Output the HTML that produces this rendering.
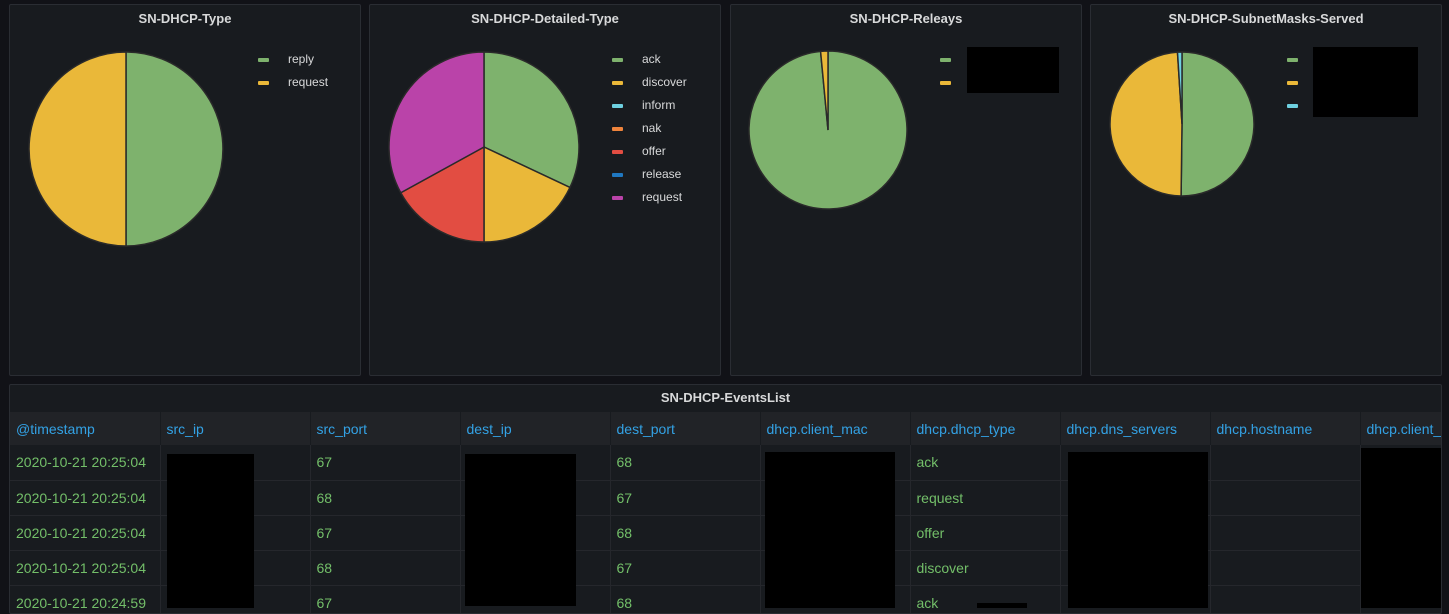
<!DOCTYPE html>
<html><head><meta charset="utf-8"><style>
body{margin:0;width:1449px;height:608px;background:#111217;overflow:hidden;font-family:"Liberation Sans",sans-serif;position:relative}
.p{position:absolute;background:#181b1f;border:1px solid #2a2d33;border-radius:2px;box-sizing:border-box}
.t{position:absolute;top:6px;left:0;right:0;text-align:center;color:#d8d9da;font-size:13px;font-weight:bold}
.lg{position:absolute;font-size:12px;color:#d8d9da}
.lg div{height:23px;position:relative;padding-left:30px;line-height:14px}
.lg span{position:absolute;left:0;top:6px;width:11px;height:4px;border-radius:1px}
.blk{position:absolute;background:#000}
table{position:absolute;left:0;top:27px;border-collapse:collapse;font-size:14px}
td,th{width:150px;min-width:150px;max-width:150px;padding:0 0 0 6px;box-sizing:border-box;text-align:left;font-weight:normal;white-space:nowrap;overflow:hidden}
th{height:33px;background:#212327;color:#33a2e5;border-right:1px solid #181b1f}
td{height:35px;color:#73bf69;border-bottom:1px solid #25272c;border-right:1px solid #25272c}
</style></head><body>
<div class="p" style="left:9px;top:4px;width:352px;height:372px"><div class="t">SN-DHCP-Type</div>
<svg id="s1" width="352" height="372" style="position:absolute;left:0;top:0"></svg>
<div class="lg" style="left:248px;top:47px"><div><span style="background:#7eb26d"></span>reply</div><div><span style="background:#eab839"></span>request</div></div></div>
<div class="p" style="left:369px;top:4px;width:352px;height:372px"><div class="t">SN-DHCP-Detailed-Type</div>
<svg id="s2" width="352" height="372" style="position:absolute;left:0;top:0"></svg>
<div class="lg" style="left:242px;top:47px"><div><span style="background:#7eb26d"></span>ack</div><div><span style="background:#eab839"></span>discover</div><div><span style="background:#6ed0e0"></span>inform</div><div><span style="background:#ef843c"></span>nak</div><div><span style="background:#e24d42"></span>offer</div><div><span style="background:#1f78c1"></span>release</div><div><span style="background:#ba43a9"></span>request</div></div></div>
<div class="p" style="left:730px;top:4px;width:352px;height:372px"><div class="t">SN-DHCP-Releays</div>
<svg id="s3" width="352" height="372" style="position:absolute;left:0;top:0"></svg>
<div class="lg" style="left:209px;top:47px"><div><span style="background:#7eb26d"></span>&nbsp;</div><div><span style="background:#eab839"></span>&nbsp;</div></div>
<div class="blk" style="left:236px;top:42px;width:92px;height:46px"></div></div>
<div class="p" style="left:1090px;top:4px;width:352px;height:372px"><div class="t">SN-DHCP-SubnetMasks-Served</div>
<svg id="s4" width="352" height="372" style="position:absolute;left:0;top:0"></svg>
<div class="lg" style="left:196px;top:47px"><div><span style="background:#7eb26d"></span>&nbsp;</div><div><span style="background:#eab839"></span>&nbsp;</div><div><span style="background:#6ed0e0"></span>&nbsp;</div></div>
<div class="blk" style="left:222px;top:42px;width:105px;height:70px"></div></div>
<div class="p" style="left:9px;top:384px;width:1433px;height:230px;overflow:hidden"><div class="t" style="top:5px">SN-DHCP-EventsList</div>
<table><tr><th>@timestamp</th><th>src_ip</th><th>src_port</th><th>dest_ip</th><th>dest_port</th><th>dhcp.client_mac</th><th>dhcp.dhcp_type</th><th>dhcp.dns_servers</th><th>dhcp.hostname</th><th>dhcp.client_</th></tr>
<tr><td>2020-10-21 20:25:04</td><td></td><td>67</td><td></td><td>68</td><td></td><td>ack</td><td></td><td></td><td></td></tr>
<tr><td>2020-10-21 20:25:04</td><td></td><td>68</td><td></td><td>67</td><td></td><td>request</td><td></td><td></td><td></td></tr>
<tr><td>2020-10-21 20:25:04</td><td></td><td>67</td><td></td><td>68</td><td></td><td>offer</td><td></td><td></td><td></td></tr>
<tr><td>2020-10-21 20:25:04</td><td></td><td>68</td><td></td><td>67</td><td></td><td>discover</td><td></td><td></td><td></td></tr>
<tr><td>2020-10-21 20:24:59</td><td></td><td>67</td><td></td><td>68</td><td></td><td>ack</td><td></td><td></td><td></td></tr></table>
</div>
<div class="blk" style="left:167px;top:454px;width:87px;height:154px"></div>
<div class="blk" style="left:465px;top:454px;width:111px;height:152px"></div>
<div class="blk" style="left:765px;top:452px;width:130px;height:156px"></div>
<div class="blk" style="left:1068px;top:452px;width:140px;height:156px"></div>
<div class="blk" style="left:1361px;top:448px;width:80px;height:160px"></div>
<div class="blk" style="left:977px;top:603px;width:50px;height:5px"></div>
<script>
function pie(id,cx,cy,r,sl){var s=document.getElementById(id),a=0,h='';sl.forEach(function(q){var b=a+q[0]*2*Math.PI;var x1=cx+r*Math.sin(a),y1=cy-r*Math.cos(a),x2=cx+r*Math.sin(b),y2=cy-r*Math.cos(b);h+='<path d="M'+cx+' '+cy+'L'+x1+' '+y1+'A'+r+' '+r+' 0 '+((b-a)>Math.PI?1:0)+' 1 '+x2+' '+y2+'Z" fill="'+q[1]+'" stroke="#2a2a2a" stroke-width="1.5"/>';a=b;});s.innerHTML=h;}
pie('s1',116,144,97,[[0.5,'#7eb26d'],[0.5,'#eab839']]);
pie('s2',114,142,95,[[0.32,'#7eb26d'],[0.18,'#eab839'],[0.17,'#e24d42'],[0.33,'#ba43a9']]);
pie('s3',97,125,79,[[0.985,'#7eb26d'],[0.015,'#eab839']]);
pie('s4',91,119,72,[[0.502,'#7eb26d'],[0.488,'#eab839'],[0.01,'#6ed0e0']]);
</script>
</body></html>
